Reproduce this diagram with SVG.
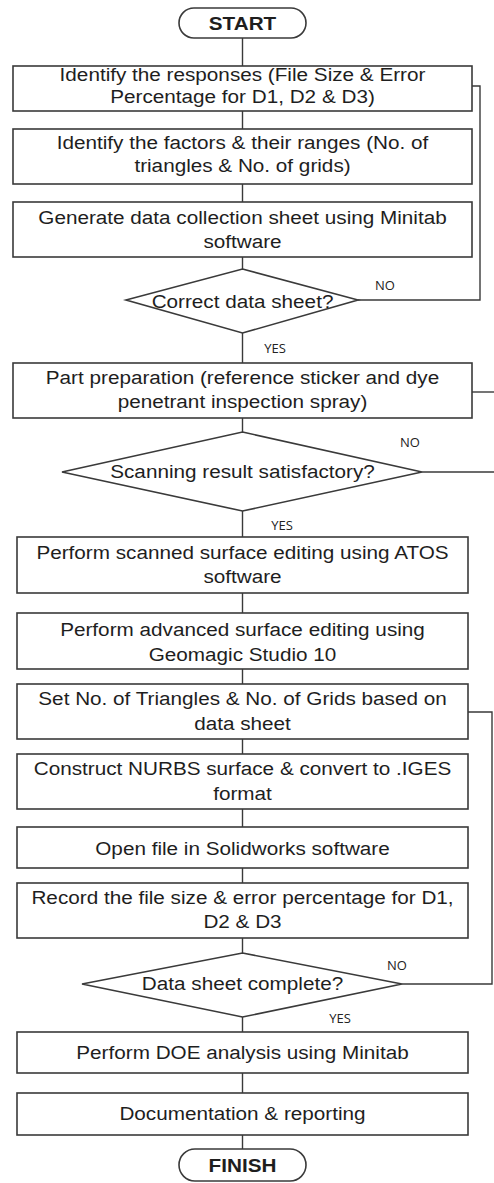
<svg xmlns="http://www.w3.org/2000/svg" width="494" height="1183" viewBox="0 0 494 1183">
<style>
.n{fill:#fff;stroke:#3a3a3a;stroke-width:1.6}
.t{font-family:"Liberation Sans",Arial,sans-serif;font-size:19px;fill:#1e1e1e;text-anchor:middle}
.b{font-weight:bold}
.l{font-family:"Open Sans","Liberation Sans",sans-serif;font-size:13px;fill:#222;text-anchor:middle}
.c{fill:none;stroke:#3a3a3a;stroke-width:1.4}
</style>
<rect width="494" height="1183" fill="#fff"/>
<g id="connectors">
<path class="c" d="M242.5 38V66M242.5 111V129M242.5 184V202M242.5 257V269M242.5 333V363M242.5 418V432M242.5 511V537M242.5 593V613M242.5 669V684M242.5 739V754M242.5 809V827M242.5 868V883M242.5 938V953M242.5 1017V1032M242.5 1073V1093M242.5 1135V1149"/>
<path class="c" d="M358 300H480V86H472"/>
<path class="c" d="M472 392H500"/>
<path class="c" d="M422 472H500"/>
<path class="c" d="M468 712H492V984H402"/>
<text class="l" x="385" y="290">NO</text>
<text class="l" x="275" y="353">YES</text>
<text class="l" x="410" y="447">NO</text>
<text class="l" x="282" y="530">YES</text>
<text class="l" x="397" y="970">NO</text>
<text class="l" x="340" y="1023">YES</text>
</g>
<g id="start">
<rect class="n" x="179" y="8" width="127" height="30" rx="15"/>
<text class="t b" transform="translate(242.5,30) scale(1.09,1)">START</text>
</g>
<g id="box1">
<rect class="n" x="13" y="66" width="459" height="45"/>
<text class="t" transform="translate(242.5,81) scale(1.09,1)"><tspan x="0" y="0">Identify the responses (File Size &amp; Error</tspan><tspan x="0" y="22">Percentage for D1, D2 &amp; D3)</tspan></text>
</g>
<g id="box2">
<rect class="n" x="13" y="129" width="459" height="55"/>
<text class="t" transform="translate(242.5,149) scale(1.09,1)"><tspan x="0" y="0">Identify the factors &amp; their ranges (No. of</tspan><tspan x="0" y="23">triangles &amp; No. of grids)</tspan></text>
</g>
<g id="box3">
<rect class="n" x="13" y="202" width="459" height="55"/>
<text class="t" transform="translate(242.5,224) scale(1.09,1)"><tspan x="0" y="0">Generate data collection sheet using Minitab</tspan><tspan x="0" y="24">software</tspan></text>
</g>
<g id="dec1">
<polygon class="n" points="242.5,269 358,300 242.5,333 126,300"/>
<text class="t" transform="translate(242.5,308) scale(1.09,1)">Correct data sheet?</text>
</g>
<g id="box4">
<rect class="n" x="13" y="363" width="459" height="55"/>
<text class="t" transform="translate(242.5,384) scale(1.09,1)"><tspan x="0" y="0">Part preparation (reference sticker and dye</tspan><tspan x="0" y="24">penetrant inspection spray)</tspan></text>
</g>
<g id="dec2">
<polygon class="n" points="242.5,432 422,472 242.5,511 62,472"/>
<text class="t" transform="translate(242.5,478) scale(1.09,1)">Scanning result satisfactory?</text>
</g>
<g id="box5">
<rect class="n" x="17" y="537" width="451" height="56"/>
<text class="t" transform="translate(242.5,559) scale(1.09,1)"><tspan x="0" y="0">Perform scanned surface editing using ATOS</tspan><tspan x="0" y="24">software</tspan></text>
</g>
<g id="box6">
<rect class="n" x="17" y="613" width="451" height="56"/>
<text class="t" transform="translate(242.5,636) scale(1.09,1)"><tspan x="0" y="0">Perform advanced surface editing using</tspan><tspan x="0" y="25">Geomagic Studio 10</tspan></text>
</g>
<g id="box7">
<rect class="n" x="17" y="684" width="451" height="55"/>
<text class="t" transform="translate(242.5,705) scale(1.09,1)"><tspan x="0" y="0">Set No. of Triangles &amp; No. of Grids based on</tspan><tspan x="0" y="25">data sheet</tspan></text>
</g>
<g id="box8">
<rect class="n" x="17" y="754" width="451" height="55"/>
<text class="t" transform="translate(242.5,775) scale(1.09,1)"><tspan x="0" y="0">Construct NURBS surface &amp; convert to .IGES</tspan><tspan x="0" y="25">format</tspan></text>
</g>
<g id="box9">
<rect class="n" x="17" y="827" width="451" height="41"/>
<text class="t" transform="translate(242.5,855) scale(1.09,1)">Open file in Solidworks software</text>
</g>
<g id="box10">
<rect class="n" x="17" y="883" width="451" height="55"/>
<text class="t" transform="translate(242.5,904) scale(1.09,1)"><tspan x="0" y="0">Record the file size &amp; error percentage for D1,</tspan><tspan x="0" y="24">D2 &amp; D3</tspan></text>
</g>
<g id="dec3">
<polygon class="n" points="242.5,953 402,984 242.5,1017 82,984"/>
<text class="t" transform="translate(242.5,990) scale(1.09,1)">Data sheet complete?</text>
</g>
<g id="box11">
<rect class="n" x="17" y="1032" width="451" height="41"/>
<text class="t" transform="translate(242.5,1059) scale(1.09,1)">Perform DOE analysis using Minitab</text>
</g>
<g id="box12">
<rect class="n" x="17" y="1093" width="451" height="42"/>
<text class="t" transform="translate(242.5,1120) scale(1.09,1)">Documentation &amp; reporting</text>
</g>
<g id="finish">
<rect class="n" x="179" y="1149" width="127" height="32" rx="16"/>
<text class="t b" transform="translate(242.5,1172) scale(1.09,1)">FINISH</text>
</g>
</svg>
